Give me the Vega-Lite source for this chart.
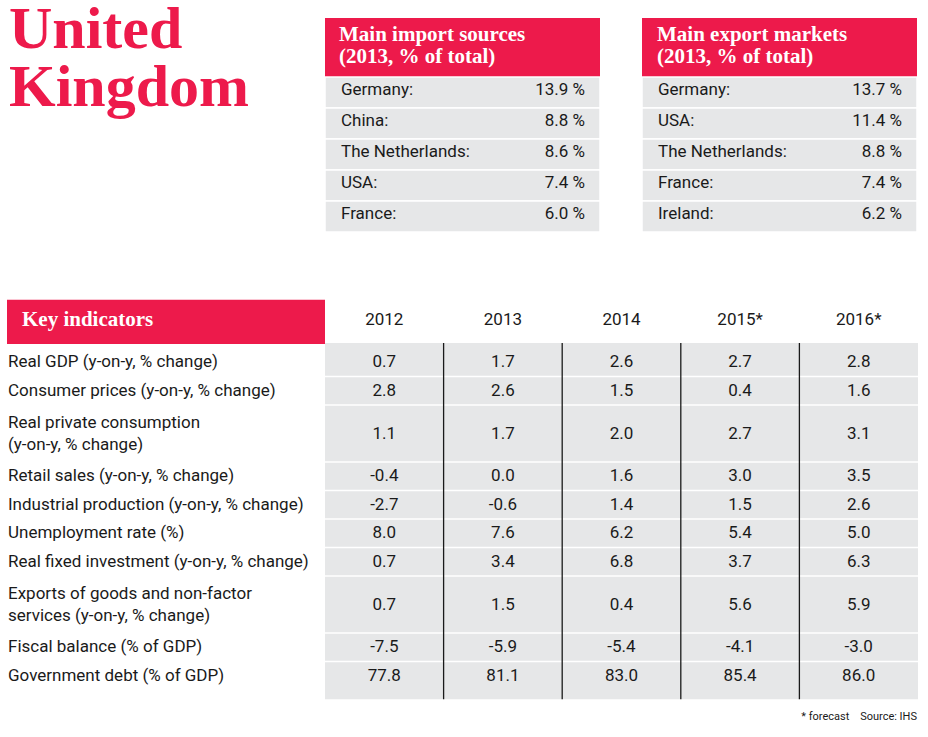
{
  "$schema": "https://vega.github.io/schema/vega-lite/v6.json",
  "padding": {"left": 7, "top": 0, "right": 0, "bottom": 0},
  "background": "white",
  "config": {
    "view": {"stroke": null},
    "axis": {"disable": true},
    "legend": {"disable": true},
    "locale": {"number": {"decimal": ".", "thousands": ",", "grouping": [3], "currency": ["", ""], "minus": "-"}},
    "text": {"font": "Roboto", "fontSize": 17, "color": "#1a1a1a"}
  },
  "datasets": {
    "imports": [
      {"country": "Germany:", "share": 13.9},
      {"country": "China:", "share": 8.8},
      {"country": "The Netherlands:", "share": 8.6},
      {"country": "USA:", "share": 7.4},
      {"country": "France:", "share": 6.0}
    ],
    "exports": [
      {"country": "Germany:", "share": 13.7},
      {"country": "USA:", "share": 11.4},
      {"country": "The Netherlands:", "share": 8.8},
      {"country": "France:", "share": 7.4},
      {"country": "Ireland:", "share": 6.2}
    ],
    "indicators": [
      {"order": 1, "label": "Real GDP (y-on-y, % change)", "2012": 0.7, "2013": 1.7, "2014": 2.6, "2015*": 2.7, "2016*": 2.8},
      {"order": 2, "label": "Consumer prices (y-on-y, % change)", "2012": 2.8, "2013": 2.6, "2014": 1.5, "2015*": 0.4, "2016*": 1.6},
      {"order": 3, "label": "Real private consumption\n(y-on-y, % change)", "2012": 1.1, "2013": 1.7, "2014": 2.0, "2015*": 2.7, "2016*": 3.1},
      {"order": 4, "label": "Retail sales (y-on-y, % change)", "2012": -0.4, "2013": 0.0, "2014": 1.6, "2015*": 3.0, "2016*": 3.5},
      {"order": 5, "label": "Industrial production (y-on-y, % change)", "2012": -2.7, "2013": -0.6, "2014": 1.4, "2015*": 1.5, "2016*": 2.6},
      {"order": 6, "label": "Unemployment rate (%)", "2012": 8.0, "2013": 7.6, "2014": 6.2, "2015*": 5.4, "2016*": 5.0},
      {"order": 7, "label": "Real fixed investment (y-on-y, % change)", "2012": 0.7, "2013": 3.4, "2014": 6.8, "2015*": 3.7, "2016*": 6.3},
      {"order": 8, "label": "Exports of goods and non-factor\nservices (y-on-y, % change)", "2012": 0.7, "2013": 1.5, "2014": 0.4, "2015*": 5.6, "2016*": 5.9},
      {"order": 9, "label": "Fiscal balance (% of GDP)", "2012": -7.5, "2013": -5.9, "2014": -5.4, "2015*": -4.1, "2016*": -3.0},
      {"order": 10, "label": "Government debt (% of GDP)", "2012": 77.8, "2013": 81.1, "2014": 83.0, "2015*": 85.4, "2016*": 86.0}
    ],
    "years": [
      {"year": "2012"}, {"year": "2013"}, {"year": "2014"}, {"year": "2015*"}, {"year": "2016*"}
    ]
  },
  "spacing": 0,
  "vconcat": [
    {
      "spacing": 42,
      "bounds": "flush",
      "hconcat": [
        {
          "width": 276,
          "height": 296,
          "data": {"values": [{"name": "United\nKingdom"}]},
          "mark": {"type": "text", "font": "Liberation Serif", "fontWeight": "bold", "fontSize": 60, "color": "#ED1A4B", "align": "left", "baseline": "alphabetic", "lineBreak": "\n", "lineHeight": 58, "dx": 2, "dy": 45},
          "encoding": {
            "x": {"datum": 0, "type": "quantitative", "scale": {"domain": [0, 1]}},
            "y": {"datum": 1, "type": "quantitative", "scale": {"domain": [0, 1]}},
            "text": {"field": "name"}
          }
        },
        {
          "width": 275,
          "height": 296,
          "layer": [
            {
              "data": {"values": [{"title": "Main import sources\n(2013, % of total)"}]},
              "mark": {"type": "rect", "fill": "#ED1A4B"},
              "encoding": {
                "x": {"datum": 0, "type": "quantitative", "scale": {"domain": [0, 1]}},
                "x2": {"datum": 1},
                "y": {"datum": -1.9, "type": "quantitative", "scale": {"domain": [-2.387, 7.161], "reverse": true, "nice": false, "zero": false}},
                "y2": {"datum": 0}
              }
            },
            {
              "data": {"values": [{"title": "Main import sources\n(2013, % of total)"}]},
              "mark": {"type": "text", "font": "Liberation Serif", "fontWeight": "bold", "fontSize": 21, "color": "white", "align": "left", "baseline": "alphabetic", "lineBreak": "\n", "lineHeight": 22, "dx": 14},
              "encoding": {
                "x": {"datum": 0, "type": "quantitative"},
                "y": {"datum": -1.161, "type": "quantitative"},
                "text": {"field": "title"}
              }
            },
            {
              "data": {"name": "imports"},
              "transform": [
                {"window": [{"op": "row_number", "as": "r"}]},
                {"calculate": "datum.r - 1", "as": "r0"}
              ],
              "mark": {"type": "rect", "fill": "#E6E7E8", "stroke": "white", "strokeWidth": 1.5},
              "encoding": {
                "x": {"datum": 0, "type": "quantitative"},
                "x2": {"datum": 1},
                "y": {"field": "r0", "type": "quantitative"},
                "y2": {"field": "r"}
              }
            },
            {
              "data": {"name": "imports"},
              "transform": [
                {"window": [{"op": "row_number", "as": "r"}]},
                {"calculate": "datum.r - 0.5", "as": "mid"}
              ],
              "mark": {"type": "text", "align": "left", "baseline": "middle", "dx": 16, "dy": -3},
              "encoding": {
                "x": {"datum": 0, "type": "quantitative"},
                "y": {"field": "mid", "type": "quantitative"},
                "text": {"field": "country"}
              }
            },
            {
              "data": {"name": "imports"},
              "transform": [
                {"window": [{"op": "row_number", "as": "r"}]},
                {"calculate": "datum.r - 0.5", "as": "mid"},
                {"calculate": "format(datum.share, '.1f') + ' %'", "as": "shareText"}
              ],
              "mark": {"type": "text", "align": "right", "baseline": "middle", "dx": -15, "dy": -3},
              "encoding": {
                "x": {"datum": 1, "type": "quantitative"},
                "y": {"field": "mid", "type": "quantitative"},
                "text": {"field": "shareText"}
              }
            }
          ]
        },
        {
          "width": 275,
          "height": 296,
          "layer": [
            {
              "data": {"values": [{"title": "Main export markets\n(2013, % of total)"}]},
              "mark": {"type": "rect", "fill": "#ED1A4B"},
              "encoding": {
                "x": {"datum": 0, "type": "quantitative", "scale": {"domain": [0, 1]}},
                "x2": {"datum": 1},
                "y": {"datum": -1.9, "type": "quantitative", "scale": {"domain": [-2.387, 7.161], "reverse": true, "nice": false, "zero": false}},
                "y2": {"datum": 0}
              }
            },
            {
              "data": {"values": [{"title": "Main export markets\n(2013, % of total)"}]},
              "mark": {"type": "text", "font": "Liberation Serif", "fontWeight": "bold", "fontSize": 21, "color": "white", "align": "left", "baseline": "alphabetic", "lineBreak": "\n", "lineHeight": 22, "dx": 15},
              "encoding": {
                "x": {"datum": 0, "type": "quantitative"},
                "y": {"datum": -1.161, "type": "quantitative"},
                "text": {"field": "title"}
              }
            },
            {
              "data": {"name": "exports"},
              "transform": [
                {"window": [{"op": "row_number", "as": "r"}]},
                {"calculate": "datum.r - 1", "as": "r0"}
              ],
              "mark": {"type": "rect", "fill": "#E6E7E8", "stroke": "white", "strokeWidth": 1.5},
              "encoding": {
                "x": {"datum": 0, "type": "quantitative"},
                "x2": {"datum": 1},
                "y": {"field": "r0", "type": "quantitative"},
                "y2": {"field": "r"}
              }
            },
            {
              "data": {"name": "exports"},
              "transform": [
                {"window": [{"op": "row_number", "as": "r"}]},
                {"calculate": "datum.r - 0.5", "as": "mid"}
              ],
              "mark": {"type": "text", "align": "left", "baseline": "middle", "dx": 16, "dy": -3},
              "encoding": {
                "x": {"datum": 0, "type": "quantitative"},
                "y": {"field": "mid", "type": "quantitative"},
                "text": {"field": "country"}
              }
            },
            {
              "data": {"name": "exports"},
              "transform": [
                {"window": [{"op": "row_number", "as": "r"}]},
                {"calculate": "datum.r - 0.5", "as": "mid"},
                {"calculate": "format(datum.share, '.1f') + ' %'", "as": "shareText"}
              ],
              "mark": {"type": "text", "align": "right", "baseline": "middle", "dx": -15, "dy": -3},
              "encoding": {
                "x": {"datum": 1, "type": "quantitative"},
                "y": {"field": "mid", "type": "quantitative"},
                "text": {"field": "shareText"}
              }
            }
          ]
        }
      ]
    },
    {
      "spacing": 0,
      "bounds": "flush",
      "hconcat": [
        {
          "width": 318,
          "height": 441,
          "layer": [
            {
              "data": {"values": [{"title": "Key indicators"}]},
              "mark": {"type": "rect", "fill": "#ED1A4B"},
              "encoding": {
                "x": {"datum": 0, "type": "quantitative", "scale": {"domain": [0, 1]}},
                "x2": {"datum": 1},
                "y": {"datum": -1.69, "type": "quantitative", "scale": {"domain": [-1.72, 13.75], "reverse": true, "nice": false, "zero": false}},
                "y2": {"datum": -0.14}
              }
            },
            {
              "data": {"values": [{"title": "Key indicators"}]},
              "mark": {"type": "text", "font": "Liberation Serif", "fontWeight": "bold", "fontSize": 21, "color": "white", "align": "left", "baseline": "middle", "dx": 15, "dy": -2},
              "encoding": {
                "x": {"datum": 0, "type": "quantitative"},
                "y": {"datum": -0.91, "type": "quantitative"},
                "text": {"field": "title"}
              }
            },
            {
              "data": {"name": "indicators"},
              "transform": [
                {"calculate": "length(split(datum.label, '\\n'))", "as": "lines"},
                {"window": [{"op": "sum", "field": "lines", "as": "lineEnd"}], "sort": [{"field": "order"}], "frame": [null, 0]},
                {"calculate": "datum.lineEnd - datum.lines / 2 - (datum.lines - 1) * 0.386", "as": "firstLine"}
              ],
              "mark": {"type": "text", "align": "left", "baseline": "middle", "lineBreak": "\n", "lineHeight": 22, "dx": 1},
              "encoding": {
                "x": {"datum": 0, "type": "quantitative"},
                "y": {"field": "firstLine", "type": "quantitative"},
                "text": {"field": "label"}
              }
            }
          ]
        },
        {
          "width": 593,
          "height": 441,
          "layer": [
            {
              "data": {"name": "years"},
              "mark": {"type": "rect", "fill": "#E6E7E8"},
              "encoding": {
                "x": {"field": "year", "type": "nominal", "scale": {"type": "band", "domain": ["2012", "2013", "2014", "2015*", "2016*"], "paddingInner": 0, "paddingOuter": 0}},
                "y": {"datum": -0.175, "type": "quantitative", "scale": {"domain": [-1.72, 13.75], "reverse": true, "nice": false, "zero": false}},
                "y2": {"datum": 12.32}
              }
            },
            {
              "data": {"name": "indicators"},
              "transform": [
                {"calculate": "length(split(datum.label, '\\n'))", "as": "lines"},
                {"window": [{"op": "sum", "field": "lines", "as": "lineEnd"}], "sort": [{"field": "order"}], "frame": [null, 0]},
                {"filter": "datum.order < 10"}
              ],
              "mark": {"type": "rule", "color": "white", "strokeWidth": 1.5},
              "encoding": {
                "y": {"field": "lineEnd", "type": "quantitative"}
              }
            },
            {
              "data": {"name": "years"},
              "transform": [{"filter": "datum.year != '2012'"}],
              "mark": {"type": "rule", "color": "#1a1a1a", "strokeWidth": 1.3},
              "encoding": {
                "x": {"field": "year", "type": "nominal", "bandPosition": 0},
                "y": {"datum": -0.175, "type": "quantitative"},
                "y2": {"datum": 12.32}
              }
            },
            {
              "data": {"name": "indicators"},
              "transform": [
                {"calculate": "length(split(datum.label, '\\n'))", "as": "lines"},
                {"window": [{"op": "sum", "field": "lines", "as": "lineEnd"}], "sort": [{"field": "order"}], "frame": [null, 0]},
                {"calculate": "datum.lineEnd - datum.lines / 2", "as": "mid"},
                {"fold": ["2012", "2013", "2014", "2015*", "2016*"], "as": ["year", "value"]}
              ],
              "mark": {"type": "text", "align": "center", "baseline": "middle"},
              "encoding": {
                "x": {"field": "year", "type": "nominal"},
                "y": {"field": "mid", "type": "quantitative"},
                "text": {"field": "value", "type": "quantitative", "format": ".1f"}
              }
            },
            {
              "data": {"name": "years"},
              "mark": {"type": "text", "align": "center", "baseline": "middle", "dy": -2},
              "encoding": {
                "x": {"field": "year", "type": "nominal"},
                "y": {"datum": -0.91, "type": "quantitative"},
                "text": {"field": "year"}
              }
            },
            {
              "data": {"values": [{"note": "* forecast\u00a0\u00a0\u00a0\u00a0Source: IHS"}]},
              "mark": {"type": "text", "align": "right", "baseline": "middle", "fontSize": 11, "dx": -1},
              "encoding": {
                "x": {"value": "width"},
                "y": {"datum": 12.93, "type": "quantitative"},
                "text": {"field": "note"}
              }
            }
          ]
        }
      ]
    }
  ]
}
